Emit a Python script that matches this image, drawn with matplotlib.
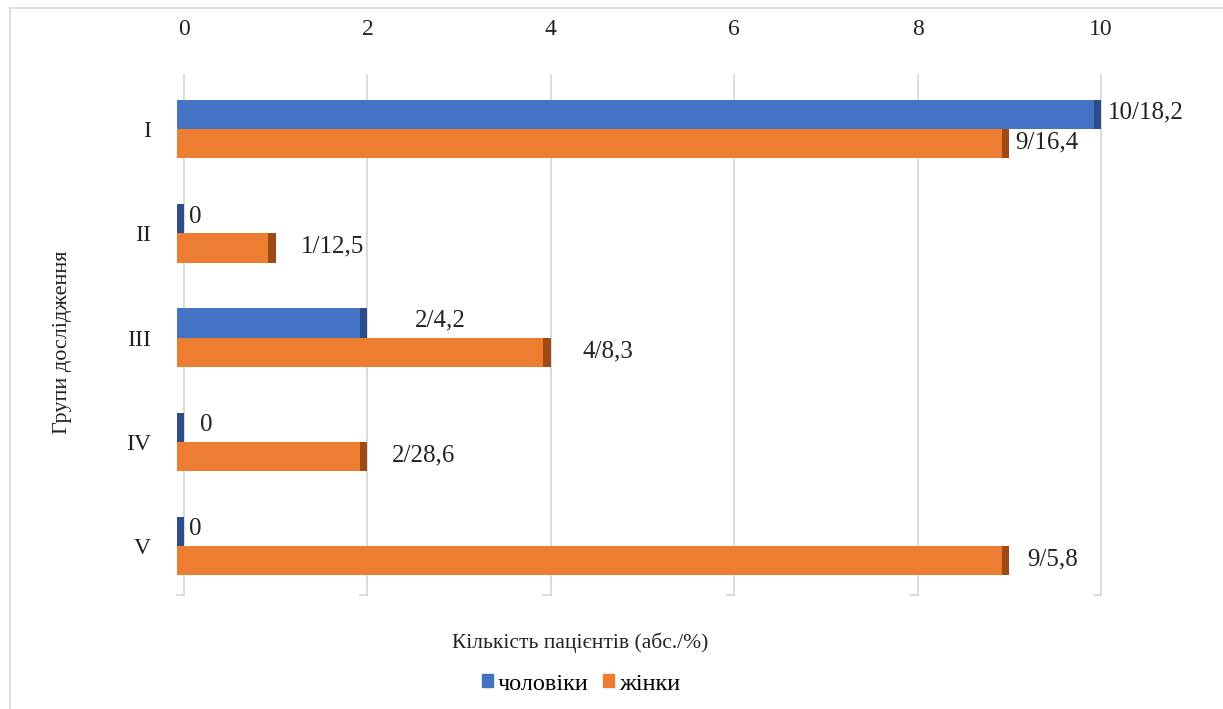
import matplotlib.pyplot as plt
from matplotlib.lines import Line2D
from matplotlib.patches import Patch

# Дані
groups = ['I', 'II', 'III', 'IV', 'V']
men = [10, 0, 2, 0, 0]
women = [9, 1, 4, 2, 9]
men_labels = ['10/18,2', '0', '2/4,2', '0', '0']
women_labels = ['9/16,4', '1/12,5', '4/8,3', '2/28,6', '9/5,8']

# зсув підписів відносно кінця стовпчика (оформлення)
men_dx = [0.07, 0.05, 0.52, 0.17, 0.05]
women_dx = [0.07, 0.27, 0.35, 0.27, 0.2]

blue, blue_dark = '#4472C4', '#2C4C8C'
orange, orange_dark = '#ED7D31', '#9E4A14'
grid_c = '#D9D9D9'
txt_c = '#222222'

plt.rcParams['font.family'] = ['Liberation Serif', 'DejaVu Serif']

fig = plt.figure(figsize=(12.23, 7.09), dpi=100)
ax = fig.add_axes([184 / 1223, 1 - 595 / 709, (1101 - 184) / 1223, 520 / 709])

h = 0.28
d = 0.08  # "глибина" стовпчика
y = list(range(len(groups)))

for i in y:
    for val, off, c, cd in [(men[i], -h / 2, blue, blue_dark),
                            (women[i], h / 2, orange, orange_dark)]:
        ax.barh(i + off, val, left=-d, height=h, color=c, clip_on=False, zorder=3)
        ax.barh(i + off, d, left=val - d, height=h, color=cd, clip_on=False, zorder=3)
    ax.text(men[i] + men_dx[i], i - h / 2 - 0.02, men_labels[i], va='center', ha='left',
            fontsize=18, color=txt_c)
    ax.text(women[i] + women_dx[i], i + h / 2 - 0.01, women_labels[i], va='center', ha='left',
            fontsize=18, color=txt_c)

ax.set_xlim(0, 10)
ax.set_ylim(4.47, -0.52)
ax.set_xticks(range(0, 11, 2))
ax.set_yticks(y)
ax.set_yticklabels(groups)
ax.xaxis.tick_top()
ax.tick_params(axis='x', length=0, pad=25, labelsize=17, colors=txt_c)
ax.tick_params(axis='y', length=0, pad=24, labelsize=17, colors=txt_c)
for s in ax.spines.values():
    s.set_visible(False)

# вертикальні лінії сітки з "гачками" внизу
for g in range(0, 11, 2):
    ax.plot([g, g], [4.47, -0.52], color=grid_c, lw=1.3, zorder=1, clip_on=False)
    ax.plot([g - d, g], [4.47, 4.47], color=grid_c, lw=1.3, zorder=1, clip_on=False)

fig.text(62 / 1223, 1 - 342 / 709, 'Групи дослідження', rotation=90, ha='center', va='center',
         fontsize=16, color=txt_c)
fig.text(580 / 1223, 1 - 643 / 709, 'Кількість пацієнтів (абс./%)', ha='center', va='center',
         fontsize=15.5, color=txt_c)

handles = [Patch(color=blue, label='чоловіки'), Patch(color=orange, label='жінки')]
fig.legend(handles=handles, loc='center', bbox_to_anchor=(581 / 1223, 1 - 684 / 709), ncol=2,
           frameon=False, fontsize=17.5, handlelength=0.45, handleheight=0.45, handletextpad=0.2,
           columnspacing=0.6)

# рамка діаграми
fig.add_artist(Line2D([10 / 1223, 1], [1 - 8 / 709, 1 - 8 / 709], color=grid_c, lw=1.2))
fig.add_artist(Line2D([10 / 1223, 10 / 1223], [0, 1 - 8 / 709], color=grid_c, lw=1.2))

fig.savefig('out.png', dpi=100)
